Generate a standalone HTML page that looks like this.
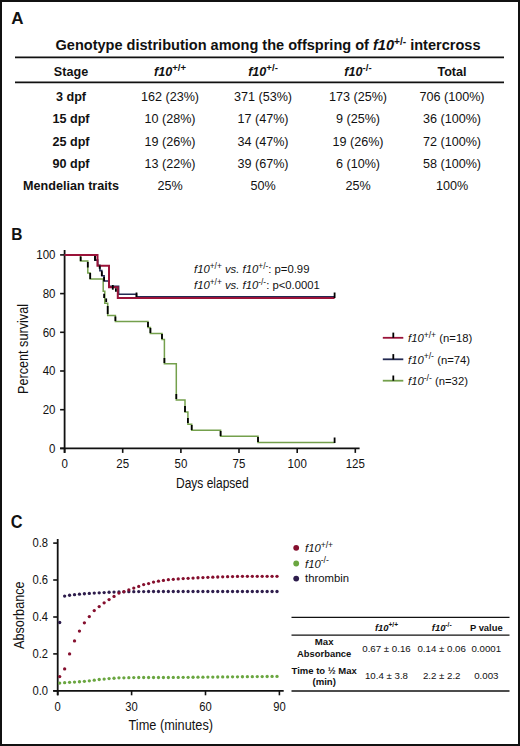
<!DOCTYPE html>
<html><head><meta charset="utf-8"><title>Figure</title>
<style>html,body{margin:0;padding:0;background:#fff;} body{width:520px;height:746px;overflow:hidden;font-family:"Liberation Sans",sans-serif;} svg{display:block;}</style>
</head><body>
<svg width="520" height="746" viewBox="0 0 520 746" font-family="Liberation Sans, sans-serif"><rect x="1" y="1" width="518" height="744" fill="none" stroke="#111" stroke-width="2"/>
<text x="11.2" y="24.1" font-size="17" font-weight="bold" font-style="normal" text-anchor="start" fill="#111" >A</text>
<text x="55.5" y="50" font-size="15" font-weight="bold" fill="#111" textLength="425" lengthAdjust="spacingAndGlyphs">Genotype distribution among the offspring of <tspan font-style="italic">f10</tspan><tspan font-size="10.5" dy="-5.2">+/-</tspan><tspan dy="5.2"> intercross</tspan></text>
<line x1="15" y1="57.3" x2="504" y2="57.3" stroke="#111" stroke-width="1.7"/>
<line x1="15" y1="82.3" x2="504" y2="82.3" stroke="#111" stroke-width="1.7"/>
<text x="71" y="75.6" font-size="12.6" font-weight="bold" font-style="normal" text-anchor="middle" fill="#111" >Stage</text>
<text x="170" y="75.6" font-size="12.6" font-weight="bold" text-anchor="middle" fill="#111"><tspan font-style="italic">f10</tspan><tspan font-size="9.6" dy="-4.9">+/+</tspan></text>
<text x="263" y="75.6" font-size="12.6" font-weight="bold" text-anchor="middle" fill="#111"><tspan font-style="italic">f10</tspan><tspan font-size="9.6" dy="-4.9">+/-</tspan></text>
<text x="358" y="75.6" font-size="12.6" font-weight="bold" text-anchor="middle" fill="#111"><tspan font-style="italic">f10</tspan><tspan font-size="9.6" dy="-4.9">-/-</tspan></text>
<text x="452" y="75.6" font-size="12.6" font-weight="bold" font-style="normal" text-anchor="middle" fill="#111" >Total</text>
<text x="71" y="101.3" font-size="12.6" font-weight="bold" font-style="normal" text-anchor="middle" fill="#111" >3 dpf</text>
<text x="170" y="101.3" font-size="12.6" font-weight="normal" font-style="normal" text-anchor="middle" fill="#111" >162 (23%)</text>
<text x="263" y="101.3" font-size="12.6" font-weight="normal" font-style="normal" text-anchor="middle" fill="#111" >371 (53%)</text>
<text x="358" y="101.3" font-size="12.6" font-weight="normal" font-style="normal" text-anchor="middle" fill="#111" >173 (25%)</text>
<text x="452" y="101.3" font-size="12.6" font-weight="normal" font-style="normal" text-anchor="middle" fill="#111" >706 (100%)</text>
<text x="71" y="123.4" font-size="12.6" font-weight="bold" font-style="normal" text-anchor="middle" fill="#111" >15 dpf</text>
<text x="170" y="123.4" font-size="12.6" font-weight="normal" font-style="normal" text-anchor="middle" fill="#111" >10 (28%)</text>
<text x="263" y="123.4" font-size="12.6" font-weight="normal" font-style="normal" text-anchor="middle" fill="#111" >17 (47%)</text>
<text x="358" y="123.4" font-size="12.6" font-weight="normal" font-style="normal" text-anchor="middle" fill="#111" >9 (25%)</text>
<text x="452" y="123.4" font-size="12.6" font-weight="normal" font-style="normal" text-anchor="middle" fill="#111" >36 (100%)</text>
<text x="71" y="145.5" font-size="12.6" font-weight="bold" font-style="normal" text-anchor="middle" fill="#111" >25 dpf</text>
<text x="170" y="145.5" font-size="12.6" font-weight="normal" font-style="normal" text-anchor="middle" fill="#111" >19 (26%)</text>
<text x="263" y="145.5" font-size="12.6" font-weight="normal" font-style="normal" text-anchor="middle" fill="#111" >34 (47%)</text>
<text x="358" y="145.5" font-size="12.6" font-weight="normal" font-style="normal" text-anchor="middle" fill="#111" >19 (26%)</text>
<text x="452" y="145.5" font-size="12.6" font-weight="normal" font-style="normal" text-anchor="middle" fill="#111" >72 (100%)</text>
<text x="71" y="168.0" font-size="12.6" font-weight="bold" font-style="normal" text-anchor="middle" fill="#111" >90 dpf</text>
<text x="170" y="168.0" font-size="12.6" font-weight="normal" font-style="normal" text-anchor="middle" fill="#111" >13 (22%)</text>
<text x="263" y="168.0" font-size="12.6" font-weight="normal" font-style="normal" text-anchor="middle" fill="#111" >39 (67%)</text>
<text x="358" y="168.0" font-size="12.6" font-weight="normal" font-style="normal" text-anchor="middle" fill="#111" >6 (10%)</text>
<text x="452" y="168.0" font-size="12.6" font-weight="normal" font-style="normal" text-anchor="middle" fill="#111" >58 (100%)</text>
<text x="71" y="189.7" font-size="12.6" font-weight="bold" font-style="normal" text-anchor="middle" fill="#111" >Mendelian traits</text>
<text x="170" y="189.7" font-size="12.6" font-weight="normal" font-style="normal" text-anchor="middle" fill="#111" >25%</text>
<text x="263" y="189.7" font-size="12.6" font-weight="normal" font-style="normal" text-anchor="middle" fill="#111" >50%</text>
<text x="358" y="189.7" font-size="12.6" font-weight="normal" font-style="normal" text-anchor="middle" fill="#111" >25%</text>
<text x="452" y="189.7" font-size="12.6" font-weight="normal" font-style="normal" text-anchor="middle" fill="#111" >100%</text>
<text x="11.3" y="239.7" font-size="17.3" font-weight="bold" font-style="normal" text-anchor="start" fill="#111" textLength="11.2" lengthAdjust="spacingAndGlyphs">B</text>
<line x1="64.6" y1="250" x2="64.6" y2="452.9" stroke="#111" stroke-width="1.8"/>
<line x1="60.099999999999994" y1="448.4" x2="359.6" y2="448.4" stroke="#111" stroke-width="1.8"/>
<line x1="60.099999999999994" y1="448.4" x2="64.6" y2="448.4" stroke="#111" stroke-width="1.6"/>
<text transform="translate(55.5,452.8) scale(0.92,1)" font-size="12.5" font-weight="normal" text-anchor="end" fill="#111">0</text>
<line x1="60.099999999999994" y1="409.7" x2="64.6" y2="409.7" stroke="#111" stroke-width="1.6"/>
<text transform="translate(55.5,414.1) scale(0.92,1)" font-size="12.5" font-weight="normal" text-anchor="end" fill="#111">20</text>
<line x1="60.099999999999994" y1="371.0" x2="64.6" y2="371.0" stroke="#111" stroke-width="1.6"/>
<text transform="translate(55.5,375.4) scale(0.92,1)" font-size="12.5" font-weight="normal" text-anchor="end" fill="#111">40</text>
<line x1="60.099999999999994" y1="332.3" x2="64.6" y2="332.3" stroke="#111" stroke-width="1.6"/>
<text transform="translate(55.5,336.7) scale(0.92,1)" font-size="12.5" font-weight="normal" text-anchor="end" fill="#111">60</text>
<line x1="60.099999999999994" y1="293.6" x2="64.6" y2="293.6" stroke="#111" stroke-width="1.6"/>
<text transform="translate(55.5,298.0) scale(0.92,1)" font-size="12.5" font-weight="normal" text-anchor="end" fill="#111">80</text>
<line x1="60.099999999999994" y1="254.9" x2="64.6" y2="254.9" stroke="#111" stroke-width="1.6"/>
<text transform="translate(55.5,259.3) scale(0.92,1)" font-size="12.5" font-weight="normal" text-anchor="end" fill="#111">100</text>
<line x1="64.6" y1="448.4" x2="64.6" y2="452.9" stroke="#111" stroke-width="1.6"/>
<text transform="translate(64.6,467.9) scale(0.92,1)" font-size="12.5" font-weight="normal" text-anchor="middle" fill="#111">0</text>
<line x1="122.7" y1="448.4" x2="122.7" y2="452.9" stroke="#111" stroke-width="1.6"/>
<text transform="translate(122.7,467.9) scale(0.92,1)" font-size="12.5" font-weight="normal" text-anchor="middle" fill="#111">25</text>
<line x1="180.9" y1="448.4" x2="180.9" y2="452.9" stroke="#111" stroke-width="1.6"/>
<text transform="translate(180.9,467.9) scale(0.92,1)" font-size="12.5" font-weight="normal" text-anchor="middle" fill="#111">50</text>
<line x1="239.0" y1="448.4" x2="239.0" y2="452.9" stroke="#111" stroke-width="1.6"/>
<text transform="translate(239.0,467.9) scale(0.92,1)" font-size="12.5" font-weight="normal" text-anchor="middle" fill="#111">75</text>
<line x1="297.2" y1="448.4" x2="297.2" y2="452.9" stroke="#111" stroke-width="1.6"/>
<text transform="translate(297.2,467.9) scale(0.92,1)" font-size="12.5" font-weight="normal" text-anchor="middle" fill="#111">100</text>
<line x1="355.3" y1="448.4" x2="355.3" y2="452.9" stroke="#111" stroke-width="1.6"/>
<text transform="translate(355.3,467.9) scale(0.92,1)" font-size="12.5" font-weight="normal" text-anchor="middle" fill="#111">125</text>
<text x="176" y="488" font-size="15.5" font-weight="normal" font-style="normal" text-anchor="start" fill="#111" textLength="72.7" lengthAdjust="spacingAndGlyphs">Days elapsed</text>
<text transform="translate(28.2,394) rotate(-90)" x="0" y="0" font-size="15.5" fill="#111" textLength="90" lengthAdjust="spacingAndGlyphs">Percent survival</text>
<path d="M64.6,254.9 H80.5 V260.9 H87.8 V273.0 H90.2 V279.1 H103.2 V291.2 H104.8 V303.3 H107.7 V315.4 H115.4 V321.4 H148.0 V327.5 H150.4 V333.5 H162.0 V339.6 H164.4 V363.7 H176.3 V400.0 H185.0 V412.1 H187.9 V424.2 H191.7 V430.3 H220.6 V436.3 H258.0 V442.4 H334.6" fill="none" stroke="#74a04c" stroke-width="1.5"/>
<path d="M64.6,254.9 H95.0 V260.1 H97.7 V265.3 H99.9 V270.6 H101.8 V275.8 H104.1 V281.0 H108.8 V286.3 H118.6 V294.2 H136.5 V296.7 H334.6" fill="none" stroke="#232a52" stroke-width="1.6"/>
<path d="M64.6,254.9 H97.5 V265.7 H109.0 V287.2 H117.8 V297.9 H334.6" fill="none" stroke="#9a1339" stroke-width="2"/>
<line x1="80.7" y1="256.5" x2="80.7" y2="261" stroke="#000" stroke-width="1.8"/>
<line x1="95" y1="256" x2="95" y2="260.7" stroke="#000" stroke-width="1.8"/>
<line x1="87.8" y1="262" x2="87.8" y2="267.5" stroke="#000" stroke-width="1.8"/>
<line x1="90.2" y1="273" x2="90.2" y2="279" stroke="#000" stroke-width="1.8"/>
<line x1="99.7" y1="265.5" x2="99.7" y2="268.8" stroke="#000" stroke-width="1.8"/>
<line x1="101.8" y1="271.3" x2="101.8" y2="276" stroke="#000" stroke-width="1.8"/>
<line x1="104.1" y1="277" x2="104.1" y2="281.3" stroke="#000" stroke-width="1.8"/>
<line x1="112.8" y1="285" x2="112.8" y2="289.7" stroke="#000" stroke-width="1.8"/>
<line x1="115.9" y1="288.3" x2="115.9" y2="291.7" stroke="#000" stroke-width="1.8"/>
<line x1="104.1" y1="293.7" x2="104.1" y2="298" stroke="#000" stroke-width="1.8"/>
<line x1="106.2" y1="298.4" x2="106.2" y2="302" stroke="#000" stroke-width="1.8"/>
<line x1="107.7" y1="306" x2="107.7" y2="314" stroke="#000" stroke-width="1.8"/>
<line x1="136.5" y1="292.5" x2="136.5" y2="297" stroke="#000" stroke-width="1.8"/>
<line x1="115.4" y1="316.5" x2="115.4" y2="321" stroke="#000" stroke-width="1.8"/>
<line x1="148" y1="322" x2="148" y2="327" stroke="#000" stroke-width="1.8"/>
<line x1="150.4" y1="328" x2="150.4" y2="333" stroke="#000" stroke-width="1.8"/>
<line x1="162" y1="334" x2="162" y2="339" stroke="#000" stroke-width="1.8"/>
<line x1="164.4" y1="358" x2="164.4" y2="363" stroke="#000" stroke-width="1.8"/>
<line x1="176.3" y1="394" x2="176.3" y2="399" stroke="#000" stroke-width="1.8"/>
<line x1="185" y1="406" x2="185" y2="412" stroke="#000" stroke-width="1.8"/>
<line x1="187.9" y1="418" x2="187.9" y2="423" stroke="#000" stroke-width="1.8"/>
<line x1="191.7" y1="425" x2="191.7" y2="430" stroke="#000" stroke-width="1.8"/>
<line x1="220.6" y1="431" x2="220.6" y2="436" stroke="#000" stroke-width="1.8"/>
<line x1="258" y1="437" x2="258" y2="442" stroke="#000" stroke-width="1.8"/>
<line x1="334.6" y1="292.5" x2="334.6" y2="298" stroke="#000" stroke-width="1.8"/>
<line x1="334.6" y1="437.5" x2="334.6" y2="443" stroke="#000" stroke-width="1.8"/>
<text x="194" y="272.8" font-size="11.3" fill="#111"><tspan font-style="italic">f10</tspan><tspan font-size="8.4" dy="-3.8">+/+</tspan><tspan dy="3.8" font-style="italic"> vs. f10</tspan><tspan font-size="8.4" dy="-3.8">+/-</tspan><tspan dy="3.8">: p=0.99</tspan></text>
<text x="194" y="289.2" font-size="11.3" fill="#111"><tspan font-style="italic">f10</tspan><tspan font-size="8.4" dy="-3.8">+/+</tspan><tspan dy="3.8" font-style="italic"> vs. f10</tspan><tspan font-size="8.4" dy="-3.8">-/-</tspan><tspan dy="3.8">: p&lt;0.0001</tspan></text>
<line x1="382.8" y1="337.8" x2="403.3" y2="337.8" stroke="#9a1339" stroke-width="1.8"/>
<line x1="393.3" y1="332.6" x2="393.3" y2="337.8" stroke="#000" stroke-width="1.8"/>
<text x="408" y="342.0" font-size="11.3" fill="#111"><tspan font-style="italic">f10</tspan><tspan font-size="8.6" dy="-4.4">+/+</tspan><tspan dy="4.4"> (n=18)</tspan></text>
<line x1="382.8" y1="359.3" x2="403.3" y2="359.3" stroke="#232a52" stroke-width="1.8"/>
<line x1="393.3" y1="354.1" x2="393.3" y2="359.3" stroke="#000" stroke-width="1.8"/>
<text x="408" y="363.5" font-size="11.3" fill="#111"><tspan font-style="italic">f10</tspan><tspan font-size="8.6" dy="-4.4">+/-</tspan><tspan dy="4.4"> (n=74)</tspan></text>
<line x1="382.8" y1="380.7" x2="403.3" y2="380.7" stroke="#74a04c" stroke-width="1.8"/>
<line x1="393.3" y1="375.5" x2="393.3" y2="380.7" stroke="#000" stroke-width="1.8"/>
<text x="408" y="384.9" font-size="11.3" fill="#111"><tspan font-style="italic">f10</tspan><tspan font-size="8.6" dy="-4.4">-/-</tspan><tspan dy="4.4"> (n=32)</tspan></text>
<text x="10.8" y="528.2" font-size="18.5" font-weight="bold" font-style="normal" text-anchor="start" fill="#111" textLength="11.8" lengthAdjust="spacingAndGlyphs">C</text>
<line x1="57.7" y1="539" x2="57.7" y2="695.3" stroke="#111" stroke-width="1.8"/>
<line x1="53.2" y1="690.8" x2="283.7" y2="690.8" stroke="#111" stroke-width="1.8"/>
<line x1="53.2" y1="690.8" x2="57.7" y2="690.8" stroke="#111" stroke-width="1.6"/>
<text transform="translate(48,695.1) scale(0.92,1)" font-size="12.2" font-weight="normal" text-anchor="end" fill="#111">0.0</text>
<line x1="53.2" y1="653.9" x2="57.7" y2="653.9" stroke="#111" stroke-width="1.6"/>
<text transform="translate(48,658.2) scale(0.92,1)" font-size="12.2" font-weight="normal" text-anchor="end" fill="#111">0.2</text>
<line x1="53.2" y1="617.0" x2="57.7" y2="617.0" stroke="#111" stroke-width="1.6"/>
<text transform="translate(48,621.3) scale(0.92,1)" font-size="12.2" font-weight="normal" text-anchor="end" fill="#111">0.4</text>
<line x1="53.2" y1="580.0" x2="57.7" y2="580.0" stroke="#111" stroke-width="1.6"/>
<text transform="translate(48,584.3) scale(0.92,1)" font-size="12.2" font-weight="normal" text-anchor="end" fill="#111">0.6</text>
<line x1="53.2" y1="543.1" x2="57.7" y2="543.1" stroke="#111" stroke-width="1.6"/>
<text transform="translate(48,547.4) scale(0.92,1)" font-size="12.2" font-weight="normal" text-anchor="end" fill="#111">0.8</text>
<line x1="57.7" y1="690.8" x2="57.7" y2="695.3" stroke="#111" stroke-width="1.6"/>
<text transform="translate(57.7,710.7) scale(0.92,1)" font-size="12.2" font-weight="normal" text-anchor="middle" fill="#111">0</text>
<line x1="131.6" y1="690.8" x2="131.6" y2="695.3" stroke="#111" stroke-width="1.6"/>
<text transform="translate(131.6,710.7) scale(0.92,1)" font-size="12.2" font-weight="normal" text-anchor="middle" fill="#111">30</text>
<line x1="205.5" y1="690.8" x2="205.5" y2="695.3" stroke="#111" stroke-width="1.6"/>
<text transform="translate(205.5,710.7) scale(0.92,1)" font-size="12.2" font-weight="normal" text-anchor="middle" fill="#111">60</text>
<line x1="279.4" y1="690.8" x2="279.4" y2="695.3" stroke="#111" stroke-width="1.6"/>
<text transform="translate(279.4,710.7) scale(0.92,1)" font-size="12.2" font-weight="normal" text-anchor="middle" fill="#111">90</text>
<text x="128.5" y="730.2" font-size="15.5" font-weight="normal" font-style="normal" text-anchor="start" fill="#111" textLength="84.5" lengthAdjust="spacingAndGlyphs">Time (minutes)</text>
<text transform="translate(24,649) rotate(-90)" x="0" y="0" font-size="15.5" fill="#111" textLength="67.6" lengthAdjust="spacingAndGlyphs">Absorbance</text>
<circle cx="59.70" cy="683.05" r="1.65" fill="#6aa640"/>
<circle cx="64.64" cy="682.68" r="1.65" fill="#6aa640"/>
<circle cx="69.58" cy="682.31" r="1.65" fill="#6aa640"/>
<circle cx="74.52" cy="682.03" r="1.65" fill="#6aa640"/>
<circle cx="79.45" cy="681.76" r="1.65" fill="#6aa640"/>
<circle cx="84.39" cy="681.29" r="1.65" fill="#6aa640"/>
<circle cx="89.33" cy="680.81" r="1.65" fill="#6aa640"/>
<circle cx="94.27" cy="680.16" r="1.65" fill="#6aa640"/>
<circle cx="99.21" cy="679.52" r="1.65" fill="#6aa640"/>
<circle cx="104.15" cy="679.06" r="1.65" fill="#6aa640"/>
<circle cx="109.09" cy="678.60" r="1.65" fill="#6aa640"/>
<circle cx="114.03" cy="678.23" r="1.65" fill="#6aa640"/>
<circle cx="118.96" cy="677.87" r="1.65" fill="#6aa640"/>
<circle cx="123.90" cy="677.78" r="1.65" fill="#6aa640"/>
<circle cx="128.84" cy="677.69" r="1.65" fill="#6aa640"/>
<circle cx="133.78" cy="677.60" r="1.65" fill="#6aa640"/>
<circle cx="138.72" cy="677.51" r="1.65" fill="#6aa640"/>
<circle cx="143.66" cy="677.51" r="1.65" fill="#6aa640"/>
<circle cx="148.60" cy="677.51" r="1.65" fill="#6aa640"/>
<circle cx="153.53" cy="677.51" r="1.65" fill="#6aa640"/>
<circle cx="158.47" cy="677.51" r="1.65" fill="#6aa640"/>
<circle cx="163.41" cy="677.51" r="1.65" fill="#6aa640"/>
<circle cx="168.35" cy="677.51" r="1.65" fill="#6aa640"/>
<circle cx="173.29" cy="677.46" r="1.65" fill="#6aa640"/>
<circle cx="178.23" cy="677.40" r="1.65" fill="#6aa640"/>
<circle cx="183.17" cy="677.35" r="1.65" fill="#6aa640"/>
<circle cx="188.10" cy="677.30" r="1.65" fill="#6aa640"/>
<circle cx="193.04" cy="677.24" r="1.65" fill="#6aa640"/>
<circle cx="197.98" cy="677.19" r="1.65" fill="#6aa640"/>
<circle cx="202.92" cy="677.14" r="1.65" fill="#6aa640"/>
<circle cx="207.86" cy="677.09" r="1.65" fill="#6aa640"/>
<circle cx="212.80" cy="677.03" r="1.65" fill="#6aa640"/>
<circle cx="217.74" cy="676.98" r="1.65" fill="#6aa640"/>
<circle cx="222.68" cy="676.93" r="1.65" fill="#6aa640"/>
<circle cx="227.61" cy="676.88" r="1.65" fill="#6aa640"/>
<circle cx="232.55" cy="676.83" r="1.65" fill="#6aa640"/>
<circle cx="237.49" cy="676.79" r="1.65" fill="#6aa640"/>
<circle cx="242.43" cy="676.74" r="1.65" fill="#6aa640"/>
<circle cx="247.37" cy="676.69" r="1.65" fill="#6aa640"/>
<circle cx="252.31" cy="676.64" r="1.65" fill="#6aa640"/>
<circle cx="257.25" cy="676.59" r="1.65" fill="#6aa640"/>
<circle cx="262.18" cy="676.55" r="1.65" fill="#6aa640"/>
<circle cx="267.12" cy="676.50" r="1.65" fill="#6aa640"/>
<circle cx="272.06" cy="676.45" r="1.65" fill="#6aa640"/>
<circle cx="277.00" cy="676.40" r="1.65" fill="#6aa640"/>
<circle cx="59.70" cy="622.50" r="1.65" fill="#2e1d4c"/>
<circle cx="64.64" cy="596.09" r="1.65" fill="#2e1d4c"/>
<circle cx="69.58" cy="595.25" r="1.65" fill="#2e1d4c"/>
<circle cx="74.52" cy="594.68" r="1.65" fill="#2e1d4c"/>
<circle cx="79.45" cy="594.13" r="1.65" fill="#2e1d4c"/>
<circle cx="84.39" cy="593.75" r="1.65" fill="#2e1d4c"/>
<circle cx="89.33" cy="593.38" r="1.65" fill="#2e1d4c"/>
<circle cx="94.27" cy="593.09" r="1.65" fill="#2e1d4c"/>
<circle cx="99.21" cy="592.82" r="1.65" fill="#2e1d4c"/>
<circle cx="104.15" cy="592.55" r="1.65" fill="#2e1d4c"/>
<circle cx="109.09" cy="592.27" r="1.65" fill="#2e1d4c"/>
<circle cx="114.03" cy="592.07" r="1.65" fill="#2e1d4c"/>
<circle cx="118.96" cy="591.89" r="1.65" fill="#2e1d4c"/>
<circle cx="123.90" cy="591.78" r="1.65" fill="#2e1d4c"/>
<circle cx="128.84" cy="591.69" r="1.65" fill="#2e1d4c"/>
<circle cx="133.78" cy="591.63" r="1.65" fill="#2e1d4c"/>
<circle cx="138.72" cy="591.59" r="1.65" fill="#2e1d4c"/>
<circle cx="143.66" cy="591.54" r="1.65" fill="#2e1d4c"/>
<circle cx="148.60" cy="591.50" r="1.65" fill="#2e1d4c"/>
<circle cx="153.53" cy="591.49" r="1.65" fill="#2e1d4c"/>
<circle cx="158.47" cy="591.49" r="1.65" fill="#2e1d4c"/>
<circle cx="163.41" cy="591.49" r="1.65" fill="#2e1d4c"/>
<circle cx="168.35" cy="591.49" r="1.65" fill="#2e1d4c"/>
<circle cx="173.29" cy="591.49" r="1.65" fill="#2e1d4c"/>
<circle cx="178.23" cy="591.49" r="1.65" fill="#2e1d4c"/>
<circle cx="183.17" cy="591.49" r="1.65" fill="#2e1d4c"/>
<circle cx="188.10" cy="591.49" r="1.65" fill="#2e1d4c"/>
<circle cx="193.04" cy="591.49" r="1.65" fill="#2e1d4c"/>
<circle cx="197.98" cy="591.49" r="1.65" fill="#2e1d4c"/>
<circle cx="202.92" cy="591.49" r="1.65" fill="#2e1d4c"/>
<circle cx="207.86" cy="591.49" r="1.65" fill="#2e1d4c"/>
<circle cx="212.80" cy="591.49" r="1.65" fill="#2e1d4c"/>
<circle cx="217.74" cy="591.49" r="1.65" fill="#2e1d4c"/>
<circle cx="222.68" cy="591.49" r="1.65" fill="#2e1d4c"/>
<circle cx="227.61" cy="591.49" r="1.65" fill="#2e1d4c"/>
<circle cx="232.55" cy="591.49" r="1.65" fill="#2e1d4c"/>
<circle cx="237.49" cy="591.49" r="1.65" fill="#2e1d4c"/>
<circle cx="242.43" cy="591.49" r="1.65" fill="#2e1d4c"/>
<circle cx="247.37" cy="591.49" r="1.65" fill="#2e1d4c"/>
<circle cx="252.31" cy="591.49" r="1.65" fill="#2e1d4c"/>
<circle cx="257.25" cy="591.49" r="1.65" fill="#2e1d4c"/>
<circle cx="262.18" cy="591.49" r="1.65" fill="#2e1d4c"/>
<circle cx="267.12" cy="591.49" r="1.65" fill="#2e1d4c"/>
<circle cx="272.06" cy="591.49" r="1.65" fill="#2e1d4c"/>
<circle cx="277.00" cy="591.49" r="1.65" fill="#2e1d4c"/>
<circle cx="59.70" cy="676.59" r="1.65" fill="#850f2e"/>
<circle cx="64.64" cy="668.90" r="1.65" fill="#850f2e"/>
<circle cx="69.58" cy="653.95" r="1.65" fill="#850f2e"/>
<circle cx="74.52" cy="640.93" r="1.65" fill="#850f2e"/>
<circle cx="79.45" cy="631.09" r="1.65" fill="#850f2e"/>
<circle cx="84.39" cy="622.84" r="1.65" fill="#850f2e"/>
<circle cx="89.33" cy="616.62" r="1.65" fill="#850f2e"/>
<circle cx="94.27" cy="610.54" r="1.65" fill="#850f2e"/>
<circle cx="99.21" cy="606.62" r="1.65" fill="#850f2e"/>
<circle cx="104.15" cy="602.86" r="1.65" fill="#850f2e"/>
<circle cx="109.09" cy="599.62" r="1.65" fill="#850f2e"/>
<circle cx="114.03" cy="596.40" r="1.65" fill="#850f2e"/>
<circle cx="118.96" cy="593.10" r="1.65" fill="#850f2e"/>
<circle cx="123.90" cy="591.67" r="1.65" fill="#850f2e"/>
<circle cx="128.84" cy="589.88" r="1.65" fill="#850f2e"/>
<circle cx="133.78" cy="588.10" r="1.65" fill="#850f2e"/>
<circle cx="138.72" cy="586.38" r="1.65" fill="#850f2e"/>
<circle cx="143.66" cy="584.62" r="1.65" fill="#850f2e"/>
<circle cx="148.60" cy="583.59" r="1.65" fill="#850f2e"/>
<circle cx="153.53" cy="582.06" r="1.65" fill="#850f2e"/>
<circle cx="158.47" cy="581.15" r="1.65" fill="#850f2e"/>
<circle cx="163.41" cy="580.44" r="1.65" fill="#850f2e"/>
<circle cx="168.35" cy="579.69" r="1.65" fill="#850f2e"/>
<circle cx="173.29" cy="579.29" r="1.65" fill="#850f2e"/>
<circle cx="178.23" cy="578.89" r="1.65" fill="#850f2e"/>
<circle cx="183.17" cy="578.57" r="1.65" fill="#850f2e"/>
<circle cx="188.10" cy="578.30" r="1.65" fill="#850f2e"/>
<circle cx="193.04" cy="578.03" r="1.65" fill="#850f2e"/>
<circle cx="197.98" cy="577.75" r="1.65" fill="#850f2e"/>
<circle cx="202.92" cy="577.53" r="1.65" fill="#850f2e"/>
<circle cx="207.86" cy="577.35" r="1.65" fill="#850f2e"/>
<circle cx="212.80" cy="577.17" r="1.65" fill="#850f2e"/>
<circle cx="217.74" cy="576.99" r="1.65" fill="#850f2e"/>
<circle cx="222.68" cy="576.83" r="1.65" fill="#850f2e"/>
<circle cx="227.61" cy="576.69" r="1.65" fill="#850f2e"/>
<circle cx="232.55" cy="576.55" r="1.65" fill="#850f2e"/>
<circle cx="237.49" cy="576.42" r="1.65" fill="#850f2e"/>
<circle cx="242.43" cy="576.35" r="1.65" fill="#850f2e"/>
<circle cx="247.37" cy="576.35" r="1.65" fill="#850f2e"/>
<circle cx="252.31" cy="576.35" r="1.65" fill="#850f2e"/>
<circle cx="257.25" cy="576.35" r="1.65" fill="#850f2e"/>
<circle cx="262.18" cy="576.35" r="1.65" fill="#850f2e"/>
<circle cx="267.12" cy="576.35" r="1.65" fill="#850f2e"/>
<circle cx="272.06" cy="576.35" r="1.65" fill="#850f2e"/>
<circle cx="277.00" cy="576.35" r="1.65" fill="#850f2e"/>
<circle cx="296.2" cy="547.8" r="2.9" fill="#850f2e"/>
<circle cx="296.2" cy="563.5" r="2.9" fill="#6aa640"/>
<circle cx="296.2" cy="578.6" r="2.9" fill="#2e1d4c"/>
<text x="305" y="552" font-size="11.3" fill="#111"><tspan font-style="italic">f10</tspan><tspan font-size="8.6" dy="-4.4">+/+</tspan></text>
<text x="305" y="567.7" font-size="11.3" fill="#111"><tspan font-style="italic">f10</tspan><tspan font-size="8.6" dy="-4.4">-/-</tspan></text>
<text x="305" y="582.4" font-size="11.3" font-weight="normal" font-style="normal" text-anchor="start" fill="#111" >thrombin</text>
<line x1="291.5" y1="617.4" x2="509.5" y2="617.4" stroke="#111" stroke-width="1.3"/>
<line x1="291.5" y1="635.1" x2="509.5" y2="635.1" stroke="#111" stroke-width="1.3"/>
<line x1="291.5" y1="691" x2="509.5" y2="691" stroke="#111" stroke-width="1.3"/>
<text x="386.5" y="630.5" font-size="9.4" font-weight="bold" text-anchor="middle" fill="#111"><tspan font-style="italic">f10</tspan><tspan font-size="6.6" dy="-3.4">+/+</tspan></text>
<text x="441.7" y="630.5" font-size="9.4" font-weight="bold" text-anchor="middle" fill="#111"><tspan font-style="italic">f10</tspan><tspan font-size="6.6" dy="-3.4">-/-</tspan></text>
<text x="486.3" y="630.5" font-size="9.4" font-weight="bold" font-style="normal" text-anchor="middle" fill="#111" >P value</text>
<text x="324.2" y="645.4" font-size="9.6" font-weight="bold" font-style="normal" text-anchor="middle" fill="#111" >Max</text>
<text x="324.2" y="657" font-size="9.6" font-weight="bold" font-style="normal" text-anchor="middle" fill="#111" textLength="54.2" lengthAdjust="spacingAndGlyphs">Absorbance</text>
<text x="324.2" y="673.5" font-size="9.6" font-weight="bold" font-style="normal" text-anchor="middle" fill="#111" textLength="65.3" lengthAdjust="spacingAndGlyphs">Time to ½ Max</text>
<text x="324.2" y="684.5" font-size="9.6" font-weight="bold" font-style="normal" text-anchor="middle" fill="#111" >(min)</text>
<text x="386.5" y="651.6" font-size="9.7" font-weight="normal" font-style="normal" text-anchor="middle" fill="#111" >0.67 ± 0.16</text>
<text x="441.7" y="651.6" font-size="9.7" font-weight="normal" font-style="normal" text-anchor="middle" fill="#111" >0.14 ± 0.06</text>
<text x="486.3" y="651.6" font-size="9.7" font-weight="normal" font-style="normal" text-anchor="middle" fill="#111" >0.0001</text>
<text x="386.5" y="679" font-size="9.7" font-weight="normal" font-style="normal" text-anchor="middle" fill="#111" >10.4 ± 3.8</text>
<text x="441.7" y="679" font-size="9.7" font-weight="normal" font-style="normal" text-anchor="middle" fill="#111" >2.2 ± 2.2</text>
<text x="486.3" y="679" font-size="9.7" font-weight="normal" font-style="normal" text-anchor="middle" fill="#111" >0.003</text></svg>
</body></html>
